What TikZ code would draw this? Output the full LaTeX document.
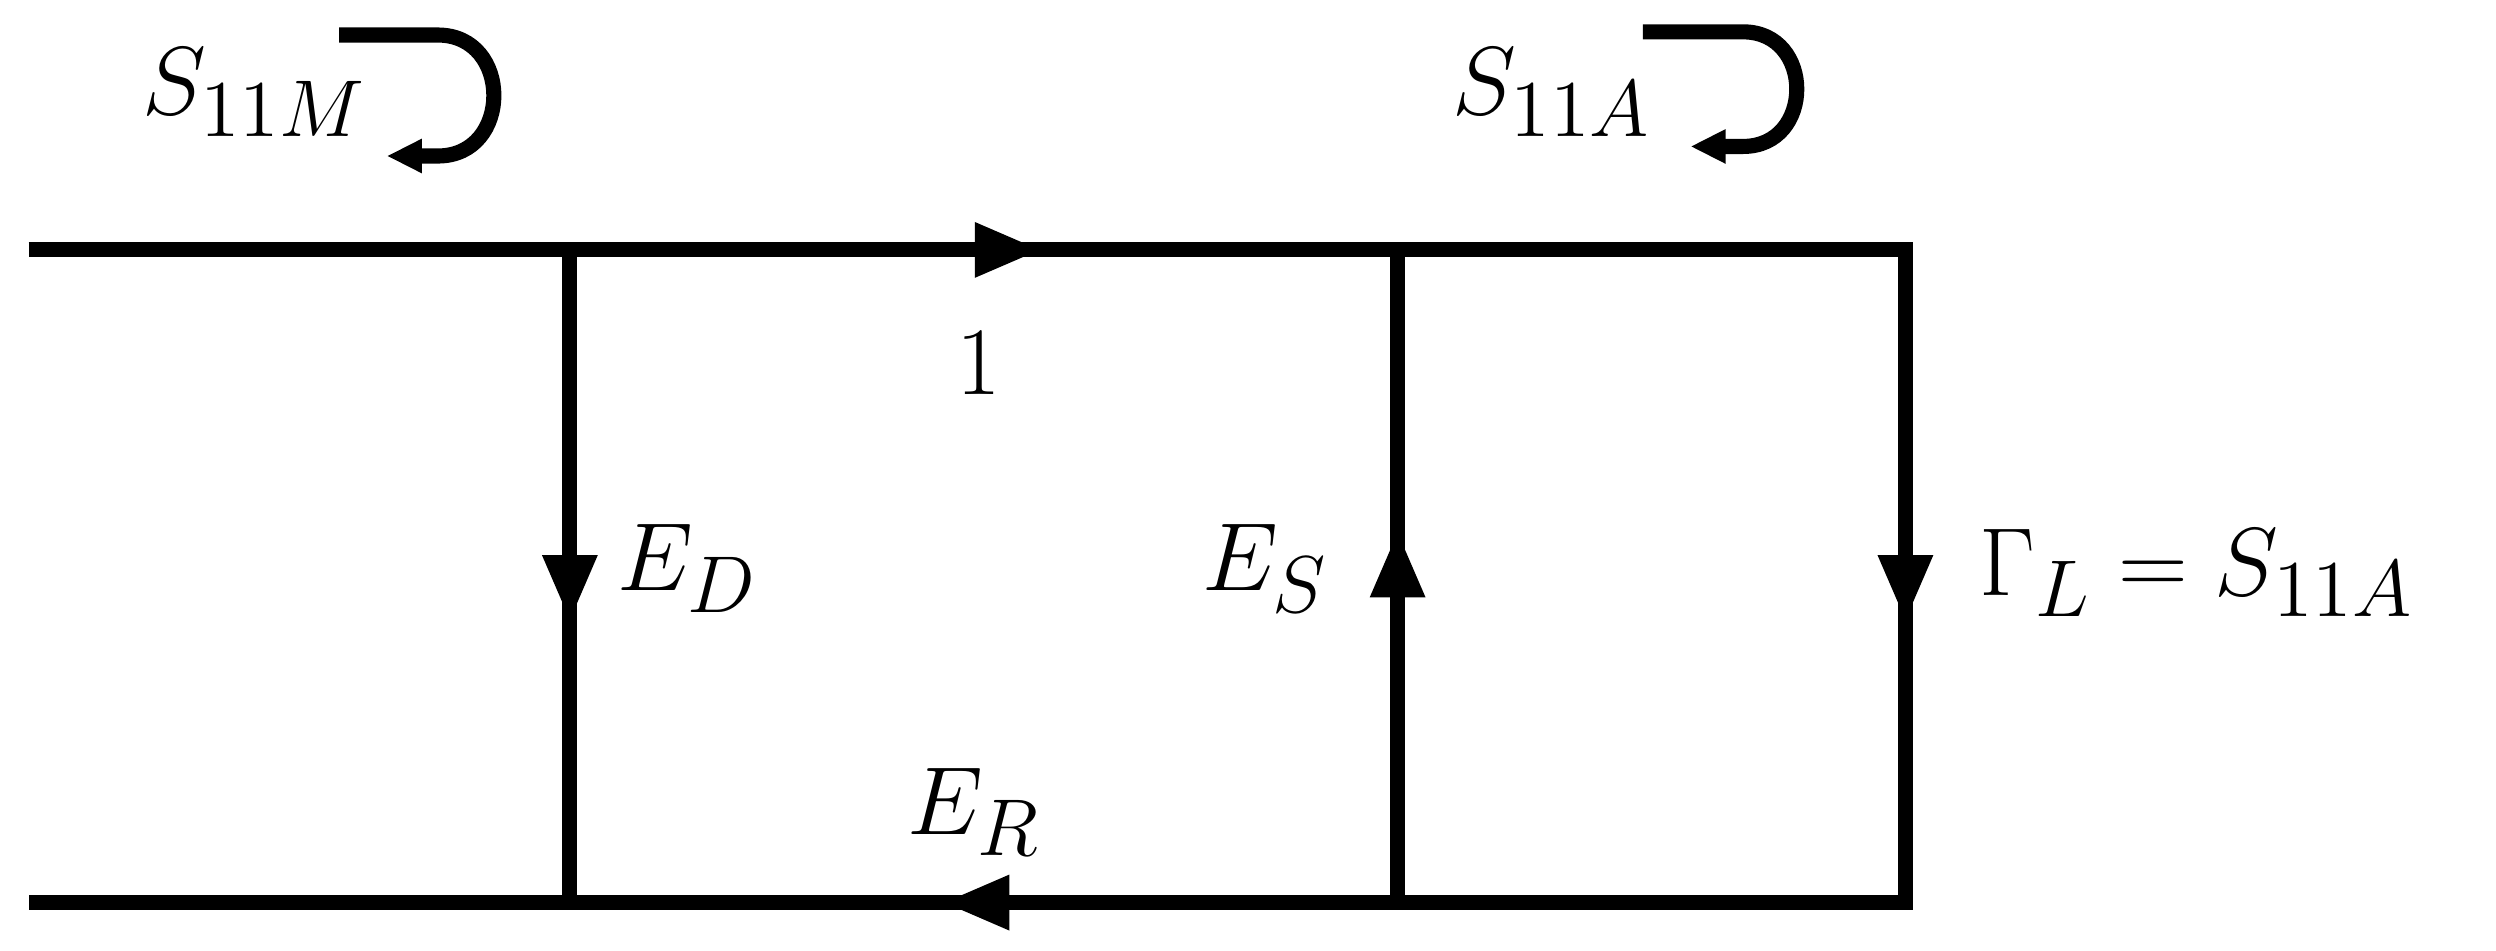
\documentclass[tikz,border=0pt]{standalone}
\usetikzlibrary{arrows.meta,decorations.markings}
\begin{document}
\begin{tikzpicture}[x=0.01cm,y=-0.01cm,line width=2.7pt,
  midarr/.style={postaction={decorate},decoration={markings,mark=at position #1 with {\arrow{Triangle[length=0.42cm,width=0.32cm]}}}},
  lbl/.style={font=\fontsize{19}{22}\selectfont}]
\useasboundingbox (0,0) rectangle (1568,597);
\coordinate (TL) at (18,157); \coordinate (T1) at (358,157); \coordinate (T2) at (878,157); \coordinate (T3) at (1197,157);
\coordinate (BL) at (18,567); \coordinate (B1) at (358,567); \coordinate (B2) at (878,567); \coordinate (B3) at (1197,567);
\draw (TL) -- (T1);
\draw[midarr=0.57] (T1) -- (T2);
\draw[line cap=rect] (T2) -- (T3);
\draw[line cap=rect,midarr=0.57] (T3) -- (B3);
\draw[line cap=rect] (B3) -- (B2);
\draw[midarr=0.55] (B2) -- (B1);
\draw (B1) -- (BL);
\draw[midarr=0.57] (T1) -- (B1);
\draw[midarr=0.57] (B2) -- (T2);
\node[lbl] (s11m) at (160,58) {$S_{11M}$};
\node[lbl] (s11a) at (975,58) {$S_{11A}$};
\node[lbl] (one) at (615,228) {$1$};
\node[lbl] (ed) at (432,357) {$E_D$};
\node[lbl] (es) at (795,357) {$E_S$};
\node[lbl] (gl) at (1380,360) {$\Gamma_L = S_{11A}$};
\node[lbl] (er) at (612,510) {$E_R$};
\coordinate (a1) at (213,22); \coordinate (a2) at (243,98);
\draw[-{Triangle[length=0.22cm,width=0.2cm]}] (a1) -- (275,22) .. controls (322,22) and (322,98) .. (275,98) -- (a2);
\coordinate (c1) at (1032,20); \coordinate (c2) at (1062,92);
\draw[-{Triangle[length=0.22cm,width=0.2cm]}] (c1) -- (1095,20) .. controls (1140,20) and (1140,92) .. (1095,92) -- (c2);
\end{tikzpicture}
\end{document}
